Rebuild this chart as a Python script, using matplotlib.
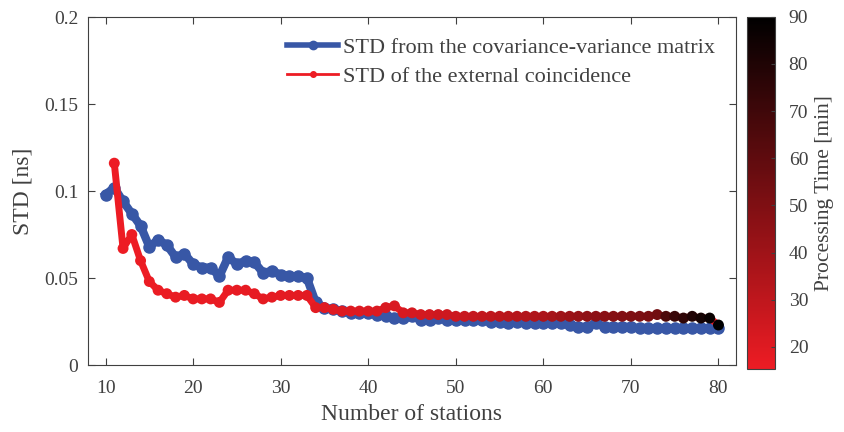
import matplotlib
matplotlib.use('Agg')
import matplotlib.pyplot as plt
from matplotlib.colors import LinearSegmentedColormap, Normalize
from matplotlib.cm import ScalarMappable
from matplotlib.lines import Line2D

plt.rcParams['font.family'] = ['Liberation Serif', 'DejaVu Serif']

# 数据: 测站数 / 两种 STD / 处理时间
stations_cov = list(range(10, 81))
std_cov = [0.098, 0.102, 0.094, 0.087, 0.080, 0.068, 0.072, 0.069, 0.062, 0.064,
           0.058, 0.056, 0.056, 0.051, 0.062, 0.058, 0.060, 0.059, 0.053, 0.054,
           0.052, 0.051, 0.051, 0.050, 0.036, 0.033, 0.032, 0.031, 0.030, 0.030,
           0.030, 0.029, 0.028, 0.027, 0.027, 0.028, 0.026, 0.026, 0.027, 0.026,
           0.026, 0.026, 0.026, 0.026, 0.025, 0.025, 0.024, 0.025, 0.024, 0.024,
           0.024, 0.024, 0.024, 0.023, 0.022, 0.022, 0.024, 0.022, 0.022, 0.022,
           0.022, 0.021, 0.021, 0.021, 0.021, 0.021, 0.021, 0.021, 0.021, 0.021,
           0.021]

stations_ext = list(range(11, 81))
std_ext = [0.116, 0.067, 0.075, 0.060, 0.048, 0.043, 0.041, 0.039, 0.040, 0.038,
           0.038, 0.038, 0.036, 0.043, 0.043, 0.043, 0.041, 0.038, 0.039, 0.040,
           0.040, 0.040, 0.040, 0.033, 0.033, 0.032, 0.031, 0.031, 0.031, 0.031,
           0.031, 0.033, 0.034, 0.030, 0.030, 0.029, 0.029, 0.029, 0.029, 0.028,
           0.028, 0.028, 0.028, 0.028, 0.028, 0.028, 0.028, 0.028, 0.028, 0.028,
           0.028, 0.028, 0.028, 0.028, 0.028, 0.028, 0.028, 0.028, 0.028, 0.028,
           0.028, 0.028, 0.029, 0.028, 0.028, 0.027, 0.028, 0.027, 0.027, 0.023]
proc_time = [15.5, 15.5, 15.5, 16, 16, 16, 16, 16.5, 16.5, 16.5,
             17, 17, 17, 17, 17.5, 17.5, 17.5, 18, 18, 18,
             18.5, 18.5, 19, 19, 19.5, 19.5, 20, 20, 20.5, 21,
             21, 22, 22, 22.5, 23, 23.5, 24, 25, 25.5, 26,
             27, 28, 29, 30, 31, 32, 33, 34, 35, 36,
             38, 40, 41, 43, 45, 46, 47, 48, 49, 50,
             51, 52, 54, 66, 72, 75, 80, 83, 87, 90]

blue = (0.22, 0.34, 0.65)
red = (0.93, 0.11, 0.14)
grey = (0.25, 0.25, 0.25)
cmap = LinearSegmentedColormap.from_list('red_black', [red, (0.0, 0.0, 0.0)])
norm = Normalize(vmin=15.3, vmax=90)

fig = plt.figure(figsize=(8.44, 4.32), dpi=100)
ax = fig.add_axes([0.1043, 0.155, 0.7677, 0.8056])

ax.plot(stations_cov, std_cov, color=blue, linewidth=6, marker='o',
        markersize=8, zorder=2)
ax.plot(stations_ext, std_ext, color=red, linewidth=5, zorder=3)
ax.scatter(stations_ext, std_ext, c=proc_time, cmap=cmap, norm=norm,
           s=62, linewidths=0, zorder=4)

ax.set_xlim(8, 82)
ax.set_ylim(0, 0.2)
ax.set_xticks(range(10, 81, 10))
ax.set_yticks([0, 0.05, 0.1, 0.15, 0.2])
ax.set_yticklabels(['0', '0.05', '0.1', '0.15', '0.2'])
ax.tick_params(direction='in', top=True, right=True, labelsize=14,
               colors=grey, length=5, width=0.8)
ax.tick_params(axis='x', pad=11)
ax.tick_params(axis='y', pad=7)
for sp in ax.spines.values():
    sp.set_color(grey)
    sp.set_linewidth(0.8)
ax.set_xlabel('Number of stations', fontsize=17, color=grey, labelpad=5)
ax.set_ylabel('STD [ns]', fontsize=17, color=grey, labelpad=8)

handles = [
    Line2D([], [], color=blue, linewidth=4, marker='o', markersize=6),
    Line2D([], [], color=red, linewidth=2, marker='o', markersize=4),
]
ax.legend(handles, ['STD from the covariance-variance matrix',
                    'STD of the external coincidence'],
          loc='upper right', bbox_to_anchor=(0.998, 0.998), frameon=False,
          fontsize=16, handlelength=2.3, handletextpad=0.2,
          labelspacing=0.35, labelcolor=grey)

cax = fig.add_axes([0.885, 0.146, 0.033, 0.815])
cb = fig.colorbar(ScalarMappable(norm=norm, cmap=cmap), cax=cax)
cb.set_ticks(range(20, 91, 10))
cb.ax.tick_params(direction='in', labelsize=14, colors=grey, length=3,
                  width=0.8, pad=10)
cb.outline.set_edgecolor(grey)
cb.outline.set_linewidth(0.8)
cb.set_label('Processing Time [min]', fontsize=15.5, color=grey, labelpad=5)

fig.savefig('out.png', dpi=100)
